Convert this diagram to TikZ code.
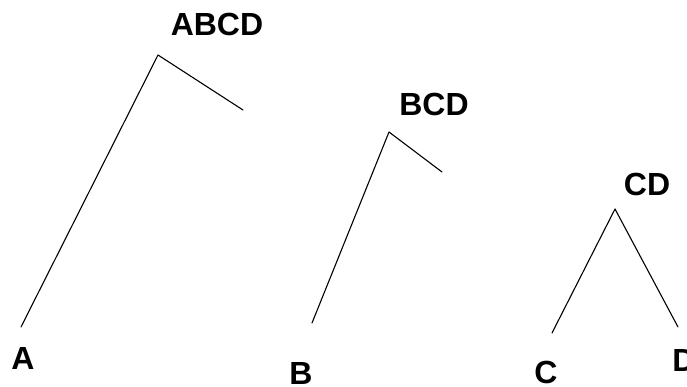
\documentclass[tikz,border=0pt]{standalone}
\usepackage{fontspec}
\setmainfont{Liberation Sans}
\begin{document}
\begin{tikzpicture}[x=1pt,y=-1pt,
  lbl/.style={font=\bfseries\fontsize{32}{32}\selectfont, inner sep=0pt, anchor=center},
  arm/.style={draw=black, line width=1.1pt, line cap=round, line join=round}]
\useasboundingbox (0,0) rectangle (687,387);

% labels
\node[lbl] (abcd) at (217,24) {ABCD};
\node[lbl] (bcd)  at (434,104) {BCD};
\node[lbl] (cd)   at (647,184) {CD};
\node[lbl] (a)    at (23,358) {A};
\node[lbl] (b)    at (301,373) {B};
\node[lbl] (c)    at (546,372) {C};
\node[lbl] (d)    at (684,360) {D};

% branch points and free ends
\coordinate (p1) at (158,55);
\coordinate (p1a) at (21,327);
\coordinate (p1r) at (243,110);
\coordinate (p2) at (389,132);
\coordinate (p2b) at (312,323);
\coordinate (p2r) at (442,172);
\coordinate (p3) at (615,209);
\coordinate (p3c) at (552,333);
\coordinate (p3d) at (678,327);

\draw[arm] (p1a) -- (p1) -- (p1r);
\draw[arm] (p2b) -- (p2) -- (p2r);
\draw[arm] (p3c) -- (p3) -- (p3d);
\end{tikzpicture}
\end{document}
